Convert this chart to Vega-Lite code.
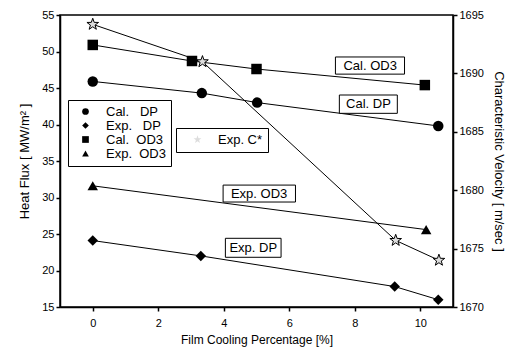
{
  "$schema": "https://vega.github.io/schema/vega-lite/v6.json",
  "width": 393,
  "height": 292,
  "autosize": {"type": "none"},
  "padding": {"left": 60, "top": 15, "right": 67, "bottom": 44},
  "config": {
    "font": "Liberation Sans",
    "view": {"stroke": "black", "strokeWidth": 1.5},
    "axis": {
      "grid": false,
      "domainColor": "black",
      "tickColor": "black",
      "labelColor": "black",
      "titleColor": "black",
      "labelFontSize": 11,
      "titleFontSize": 13,
      "titleFontWeight": "normal",
      "domainWidth": 1.5,
      "tickWidth": 1.5,
      "tickSize": 4,
      "labelOverlap": false
    },
    "legend": {
      "labelFontSize": 13,
      "labelColor": "black",
      "strokeColor": "black",
      "padding": 5,
      "rowPadding": 0,
      "symbolStrokeColor": "black"
    }
  },
  "datasets": {
    "hf": [
      {"series": "Cal.\u00a0\u00a0\u00a0DP", "x": 0, "y": 45.9},
      {"series": "Cal.\u00a0\u00a0\u00a0DP", "x": 3.33, "y": 44.3},
      {"series": "Cal.\u00a0\u00a0\u00a0DP", "x": 5.02, "y": 43.0},
      {"series": "Cal.\u00a0\u00a0\u00a0DP", "x": 10.55, "y": 39.8},
      {"series": "Exp.\u00a0\u00a0\u00a0DP", "x": 0, "y": 24.1},
      {"series": "Exp.\u00a0\u00a0\u00a0DP", "x": 3.3, "y": 22.0},
      {"series": "Exp.\u00a0\u00a0\u00a0DP", "x": 9.22, "y": 17.8},
      {"series": "Exp.\u00a0\u00a0\u00a0DP", "x": 10.55, "y": 16.0},
      {"series": "Cal.\u00a0\u00a0OD3", "x": 0, "y": 50.9},
      {"series": "Cal.\u00a0\u00a0OD3", "x": 3.03, "y": 48.7},
      {"series": "Cal.\u00a0\u00a0OD3", "x": 5.0, "y": 47.6},
      {"series": "Cal.\u00a0\u00a0OD3", "x": 10.14, "y": 45.4},
      {"series": "Exp.\u00a0\u00a0OD3", "x": 0, "y": 31.6},
      {"series": "Exp.\u00a0\u00a0OD3", "x": 10.18, "y": 25.6}
    ],
    "cv": [
      {"series": "Exp. C*", "x": 0, "v": 1694.2},
      {"series": "Exp. C*", "x": 3.35, "v": 1691.0},
      {"series": "Exp. C*", "x": 9.25, "v": 1675.7},
      {"series": "Exp. C*", "x": 10.57, "v": 1674.0}
    ],
    "labels": [
      {"text": "Cal. OD3", "cx": 8.47, "cy": 48.07, "x1": 7.41, "x2": 9.52, "y1": 46.9, "y2": 49.25},
      {"text": "Cal. DP", "cx": 8.42, "cy": 42.8, "x1": 7.53, "x2": 9.3, "y1": 41.53, "y2": 44.04},
      {"text": "Exp. OD3", "cx": 5.08, "cy": 30.54, "x1": 3.98, "x2": 6.19, "y1": 29.38, "y2": 31.7},
      {"text": "Exp. DP", "cx": 4.9, "cy": 23.11, "x1": 4.05, "x2": 5.75, "y1": 21.81, "y2": 24.41}
    ]
  },
  "layer": [
    {
      "layer": [
        {
          "data": {"name": "hf"},
          "mark": {"type": "line", "color": "black", "strokeWidth": 1},
          "encoding": {
            "x": {
              "field": "x",
              "type": "quantitative",
              "scale": {"domain": [-1, 11], "nice": false, "zero": false},
              "axis": {"orient": "bottom", "values": [0, 2, 4, 6, 8, 10], "labelOverlap": false, "title": "Film Cooling Percentage [%]", "titleFontSize": 12, "labelPadding": 6, "titlePadding": 6}
            },
            "y": {
              "field": "y",
              "type": "quantitative",
              "scale": {"domain": [15, 55], "nice": false, "zero": false},
              "axis": {"orient": "left", "values": [15, 20, 25, 30, 35, 40, 45, 50, 55], "labelOverlap": false, "title": "Heat Flux [ MW/m² ]", "titlePadding": 10}
            },
            "detail": {"field": "series", "type": "nominal"}
          }
        },
        {
          "data": {"name": "hf"},
          "mark": {"type": "point", "filled": true, "color": "black", "size": 110, "opacity": 1},
          "encoding": {
            "x": {"field": "x", "type": "quantitative", "axis": {"orient": "bottom", "values": [0, 2, 4, 6, 8, 10], "labelOverlap": false, "title": "Film Cooling Percentage [%]", "titleFontSize": 12, "labelPadding": 6, "titlePadding": 6}},
            "y": {"field": "y", "type": "quantitative", "axis": {"orient": "left", "values": [15, 20, 25, 30, 35, 40, 45, 50, 55], "labelOverlap": false, "title": "Heat Flux [ MW/m² ]", "titlePadding": 10}},
            "shape": {
              "field": "series",
              "type": "nominal",
              "scale": {
                "domain": ["Cal.\u00a0\u00a0\u00a0DP", "Exp.\u00a0\u00a0\u00a0DP", "Cal.\u00a0\u00a0OD3", "Exp.\u00a0\u00a0OD3"],
                "range": ["circle", "diamond", "square", "triangle-up"]
              },
              "legend": {"title": null, "orient": "none", "legendX": 8, "legendY": 85, "symbolSize": 45, "symbolFillColor": "black", "symbolOffset": 6, "labelOffset": 14}
            }
          }
        },
        {
          "data": {"name": "labels"},
          "mark": {"type": "rect", "fill": "white", "stroke": "black", "strokeWidth": 1},
          "encoding": {
            "x": {"field": "x1", "type": "quantitative", "axis": {"orient": "bottom", "values": [0, 2, 4, 6, 8, 10], "labelOverlap": false, "title": "Film Cooling Percentage [%]", "titleFontSize": 12, "labelPadding": 6, "titlePadding": 6}},
            "x2": {"field": "x2"},
            "y": {"field": "y1", "type": "quantitative", "axis": {"orient": "left", "values": [15, 20, 25, 30, 35, 40, 45, 50, 55], "labelOverlap": false, "title": "Heat Flux [ MW/m² ]", "titlePadding": 10}},
            "y2": {"field": "y2"}
          }
        },
        {
          "data": {"name": "labels"},
          "mark": {"type": "text", "fontSize": 13, "color": "black", "align": "center", "baseline": "middle"},
          "encoding": {
            "x": {"field": "cx", "type": "quantitative", "axis": {"orient": "bottom", "values": [0, 2, 4, 6, 8, 10], "labelOverlap": false, "title": "Film Cooling Percentage [%]", "titleFontSize": 12, "labelPadding": 6, "titlePadding": 6}},
            "y": {"field": "cy", "type": "quantitative", "axis": {"orient": "left", "values": [15, 20, 25, 30, 35, 40, 45, 50, 55], "labelOverlap": false, "title": "Heat Flux [ MW/m² ]", "titlePadding": 10}},
            "text": {"field": "text", "type": "nominal"}
          }
        }
      ]
    },
    {
      "layer": [
        {
          "data": {"name": "cv"},
          "mark": {"type": "line", "color": "black", "strokeWidth": 1},
          "encoding": {
            "x": {"field": "x", "type": "quantitative", "axis": {"orient": "bottom", "values": [0, 2, 4, 6, 8, 10], "labelOverlap": false, "title": "Film Cooling Percentage [%]", "titleFontSize": 12, "labelPadding": 6, "titlePadding": 6}},
            "y": {
              "field": "v",
              "type": "quantitative",
              "scale": {"domain": [1670, 1695], "nice": false, "zero": false},
              "axis": {"orient": "right", "values": [1670, 1675, 1680, 1685, 1690, 1695], "labelOverlap": false, "format": "d", "title": "Characteristic Velocity [ m/sec ]", "titlePadding": 8}
            }
          }
        },
        {
          "data": {"name": "cv"},
          "mark": {"type": "point", "filled": true, "fill": "#dddddd", "stroke": "black", "strokeWidth": 1, "size": 150, "opacity": 1},
          "encoding": {
            "x": {"field": "x", "type": "quantitative", "axis": {"orient": "bottom", "values": [0, 2, 4, 6, 8, 10], "labelOverlap": false, "title": "Film Cooling Percentage [%]", "titleFontSize": 12, "labelPadding": 6, "titlePadding": 6}},
            "y": {"field": "v", "type": "quantitative", "axis": {"orient": "right", "values": [1670, 1675, 1680, 1685, 1690, 1695], "labelOverlap": false, "format": "d", "title": "Characteristic Velocity [ m/sec ]", "titlePadding": 8}},
            "shape": {
              "field": "series",
              "type": "nominal",
              "scale": {"range": ["M0,-1L0.235,-0.324L0.951,-0.309L0.38,0.124L0.588,0.809L0,0.4L-0.588,0.809L-0.38,0.124L-0.951,-0.309L-0.235,-0.324Z"]},
              "legend": {"title": null, "orient": "none", "legendX": 116, "legendY": 113, "symbolSize": 70, "symbolFillColor": "black", "symbolOffset": 10, "labelOffset": 14}
            }
          }
        }
      ]
    }
  ],
  "resolve": {"scale": {"y": "independent", "shape": "independent"}}
}
